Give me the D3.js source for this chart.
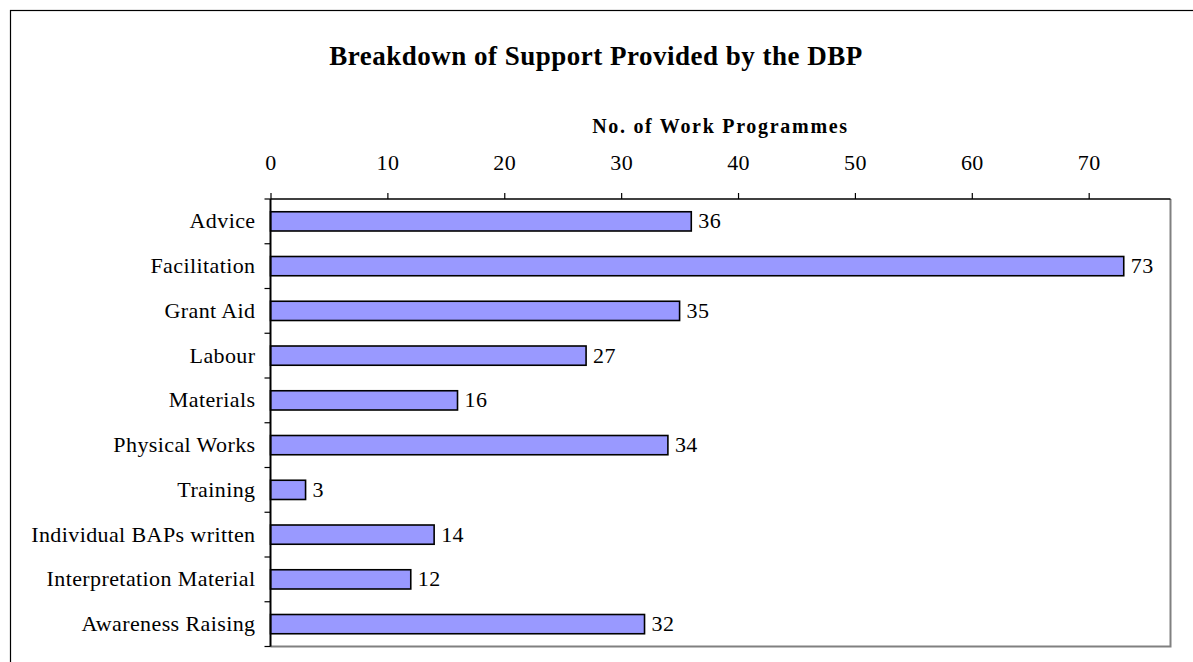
<!DOCTYPE html>
<html>
<head>
<meta charset="utf-8">
<script src="https://cdn.jsdelivr.net/npm/d3@7"></script>
<style>
  html, body { margin: 0; padding: 0; background: #fff; }
  svg { display: block; }
  text { font-family: "Liberation Serif", "Times New Roman", serif; fill: #000; }
</style>
</head>
<body>
<svg id="chart" width="1193" height="662"></svg>
<script>
// Support types and the number of work programmes receiving each
const categories = [
  "Advice", "Facilitation", "Grant Aid", "Labour", "Materials",
  "Physical Works", "Training", "Individual BAPs written",
  "Interpretation Material", "Awareness Raising"
];
const values = [36, 73, 35, 27, 16, 34, 3, 14, 12, 32];
const xTicks = [0, 10, 20, 30, 40, 50, 60, 70];
const xMax = 77;

const svg = d3.select("#chart");
const W = 1193, H = 662;
const plot = { left: 270.5, top: 199, right: 1170.5, bottom: 646.5 };

// outer chart frame
svg.append("rect")
  .attr("x", 10.5).attr("y", 10.5)
  .attr("width", W + 20).attr("height", H + 20)
  .attr("fill", "none").attr("stroke", "#000").attr("stroke-width", 1.2);

const x = d3.scaleLinear().domain([0, xMax]).range([plot.left, plot.right]);
const y = d3.scaleBand().domain(categories).range([plot.top, plot.bottom])
  .paddingInner(0.57).paddingOuter(0.285);
const yEdges = d3.scaleLinear().domain([0, categories.length]).range([plot.top, plot.bottom]);

// plot area border (right and bottom edges in grey)
svg.append("path")
  .attr("d", `M${plot.right},${plot.top}V${plot.bottom}H${plot.left}`)
  .attr("fill", "none").attr("stroke", "#808080").attr("stroke-width", 2);

// bars
svg.append("g").selectAll("rect")
  .data(values)
  .join("rect")
  .attr("x", x(0))
  .attr("y", (d, i) => y(categories[i]))
  .attr("width", d => x(d) - x(0))
  .attr("height", y.bandwidth())
  .attr("fill", "#9999FF")
  .attr("stroke", "#000")
  .attr("stroke-width", 1.6);

// value labels
svg.append("g").selectAll("text")
  .data(values)
  .join("text")
  .attr("x", d => x(d) + 7)
  .attr("y", (d, i) => y(categories[i]) + y.bandwidth() / 2)
  .attr("dy", "0.32em")
  .attr("font-size", 22)
  .attr("letter-spacing", 0.4)
  .text(d => d);

// top value axis
const xAxis = d3.axisTop(x).tickValues(xTicks).tickSize(6).tickPadding(23).tickSizeOuter(0);
const gx = svg.append("g").attr("transform", `translate(0,${plot.top})`).call(xAxis);
gx.select(".domain").attr("stroke", "#000").attr("stroke-width", 1.5)
  .attr("d", `M${plot.left},0H${plot.right}`);
gx.selectAll(".tick line").attr("stroke", "#000").attr("stroke-width", 1.2);
gx.selectAll(".tick text")
  .attr("font-family", "Liberation Serif, serif").attr("font-size", 22)
  .attr("letter-spacing", 0.4).attr("fill", "#000");

// category axis on the left, ticks at band boundaries
svg.append("line")
  .attr("x1", plot.left).attr("x2", plot.left)
  .attr("y1", plot.top).attr("y2", plot.bottom)
  .attr("stroke", "#000").attr("stroke-width", 2);
svg.append("g").selectAll("line")
  .data(d3.range(categories.length + 1))
  .join("line")
  .attr("x1", plot.left - 6).attr("x2", plot.left)
  .attr("y1", d => yEdges(d)).attr("y2", d => yEdges(d))
  .attr("stroke", "#000").attr("stroke-width", 1.2);
svg.append("g").selectAll("text")
  .data(categories)
  .join("text")
  .attr("x", plot.left - 15)
  .attr("y", d => y(d) + y.bandwidth() / 2)
  .attr("dy", "0.32em")
  .attr("text-anchor", "end")
  .attr("font-size", 22)
  .attr("letter-spacing", 0.4)
  .text(d => d);

// axis title
svg.append("text")
  .attr("x", (plot.left + plot.right) / 2)
  .attr("y", 133)
  .attr("text-anchor", "middle")
  .attr("font-size", 20)
  .attr("font-weight", "bold")
  .attr("letter-spacing", 1.7)
  .text("No. of Work Programmes");

// chart title
svg.append("text")
  .attr("x", 596)
  .attr("y", 65)
  .attr("text-anchor", "middle")
  .attr("font-size", 27)
  .attr("font-weight", "bold")
  .attr("letter-spacing", 0.5)
  .text("Breakdown of Support Provided by the DBP");
</script>
</body>
</html>
